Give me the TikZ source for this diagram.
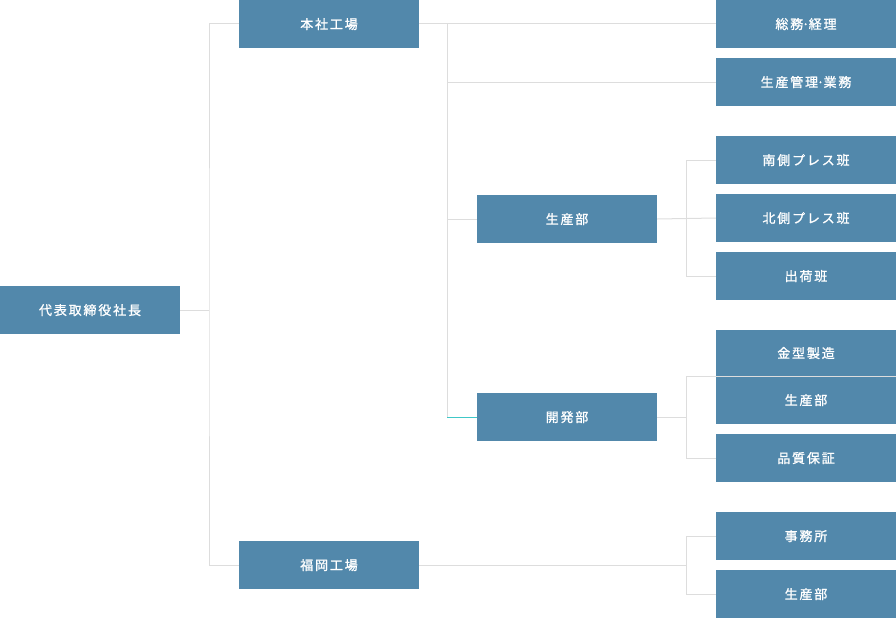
\documentclass[tikz,border=0pt]{standalone}
\usepackage{fontspec}
\newfontfamily\jpfont[LetterSpace=14,FakeBold=1.2]{Noto Sans CJK JP}
\usetikzlibrary{positioning}
\definecolor{OrgBlue}{RGB}{82,136,171}
\definecolor{LinkGray}{RGB}{221,221,221}
\definecolor{LinkTeal}{RGB}{64,200,200}
\newcommand{\middot}{\kern-1.2pt·\kern-0.6pt}

\begin{document}
\begin{tikzpicture}[x=1pt,y=-1pt,
  unit/.style={fill=OrgBlue,text=white,inner sep=0pt,
    minimum width=180pt,minimum height=48pt,
    text height=11pt,text depth=1pt,
    font={\jpfont\fontsize{13}{15}\selectfont}},
  link/.style={draw=LinkGray,line width=1pt},
  linkhi/.style={draw=LinkTeal,line width=1pt}
]
\useasboundingbox (0,0) rectangle (896,618);
% top level
\node[unit] (ceo) at (90,310) {代表取締役社長};
\node[unit] (honsha) at (329,24) {本社工場};
\node[unit] (fukuoka) at (329,565) {福岡工場};
% head office
\node[unit] (somu) at (806,24) {総務\middot 経理};
\node[unit] (kanri) at (806,82) {生産管理\middot 業務};
\node[unit] (seisan) at (567,219) {生産部};
\node[unit] (kaihatsu) at (567,417) {開発部};
% production
\node[unit] (minami) at (806,160) {南側プレス班};
\node[unit] (kita) at (806,218) {北側プレス班};
\node[unit] (shukka) at (806,276) {出荷班};
% development
\node[unit,minimum height=46pt] (kanagata) at (806,353) {金型製造};
\node[unit] (kseisan) at (806,400) {生産部};
\node[unit] (hinshitsu) at (806,458) {品質保証};
% fukuoka
\node[unit] (jimusho) at (806,536) {事務所};
\node[unit] (fseisan) at (806,594) {生産部};

\coordinate (trunk) at (209,310);
\coordinate (hb) at (447,24);
\coordinate (sb) at (686,218);
\coordinate (kb) at (686,417);
\coordinate (fb) at (686,565);

\draw[link] (ceo.east) -- (trunk);
\draw[link] (honsha.west) -| (trunk) |- (fukuoka.west);

\draw[link] (honsha.east) -- (somu.west);
\draw[link] (hb) -- (hb |- kaihatsu.west);
\draw[link] (hb |- kanri.west) -- (kanri.west);
\draw[link] (hb |- seisan.west) -- (seisan.west);
\draw[linkhi] (hb |- kaihatsu.west) -- (kaihatsu.west);

\draw[link] (seisan.east) -- (kita.west);
\draw[link] (minami.west) -| (sb) |- (shukka.west);

\draw[link] (kaihatsu.east) -- (kb);
\draw[link] (kanagata.south east) -| (kb) |- (hinshitsu.west);

\draw[link] (fukuoka.east) -- (fb);
\draw[link] (jimusho.west) -| (fb) |- (fseisan.west);
\end{tikzpicture}
\end{document}
